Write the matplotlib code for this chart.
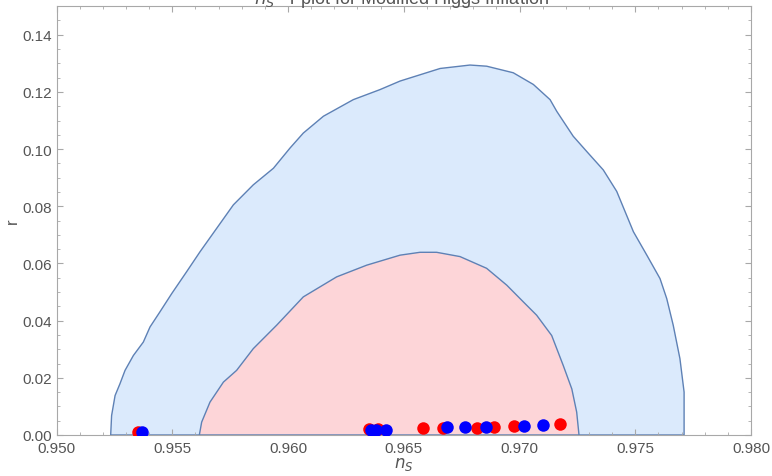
import matplotlib.pyplot as plt
from matplotlib.ticker import MultipleLocator, FormatStrFormatter

plt.rcParams['font.family'] = ['Liberation Sans', 'DejaVu Sans']

# outer (2-sigma) region boundary
outer_ns = [0.95234, 0.95238, 0.95253, 0.95274, 0.95296, 0.95332, 0.95375, 0.95404,
            0.95447, 0.95498, 0.95562, 0.95620, 0.95692, 0.95764, 0.95850, 0.95937,
            0.96009, 0.96066, 0.96153, 0.96282, 0.96397, 0.96484, 0.96657, 0.96786,
            0.96858, 0.96973, 0.97060, 0.97132, 0.97161, 0.97232, 0.97290, 0.97362,
            0.97420, 0.97492, 0.97550, 0.97607, 0.97636, 0.97664, 0.97693, 0.97711,
            0.97711]
outer_r = [0.0, 0.0068, 0.0138, 0.0179, 0.0226, 0.0278, 0.0325, 0.0378,
           0.0431, 0.0495, 0.0571, 0.0641, 0.0723, 0.0805, 0.0875, 0.0933,
           0.1004, 0.1056, 0.1115, 0.1173, 0.1208, 0.1238, 0.1282, 0.1294,
           0.1290, 0.1267, 0.1226, 0.1173, 0.1132, 0.1045, 0.0992, 0.0927,
           0.0852, 0.0711, 0.0629, 0.0547, 0.0477, 0.0384, 0.0267, 0.0150,
           0.0]

# inner (1-sigma) region boundary
inner_ns = [0.95617, 0.95627, 0.95663, 0.95721, 0.95778, 0.95850, 0.95951, 0.96066,
            0.96210, 0.96340, 0.96484, 0.96570, 0.96642, 0.96743, 0.96858, 0.96945,
            0.97016, 0.97074, 0.97139, 0.97189, 0.97226, 0.97247, 0.97257]
inner_r = [0.0, 0.0045, 0.0115, 0.0185, 0.0226, 0.0302, 0.0384, 0.0483,
           0.0553, 0.0594, 0.0629, 0.0639, 0.0639, 0.0624, 0.0583, 0.0524,
           0.0466, 0.0419, 0.0348, 0.0243, 0.0161, 0.0080, 0.0]

# model predictions
red_ns = [0.95354, 0.96351, 0.96389, 0.96582, 0.96671, 0.96815, 0.96891, 0.96978, 0.97175]
red_r = [0.0011, 0.0020, 0.0020, 0.0023, 0.0024, 0.0023, 0.0029, 0.0033, 0.0039]
blue_ns = [0.95368, 0.96357, 0.96380, 0.96423, 0.96686, 0.96765, 0.96855, 0.97019, 0.97103]
blue_r = [0.0012, 0.0019, 0.0019, 0.0019, 0.0027, 0.0027, 0.0029, 0.0033, 0.0036]

edge = '#5e81b5'
gray = '#555555'

fig = plt.figure(figsize=(7.72, 4.77), dpi=100)
ax = fig.add_axes([0.0732, 0.086, 0.8996, 0.899])

ax.fill(outer_ns, outer_r, facecolor='#dbeafc', edgecolor=edge, linewidth=1.0, zorder=1)
ax.fill(inner_ns, inner_r, facecolor='#fdd5d8', edgecolor=edge, linewidth=1.0, zorder=2)

ax.plot(red_ns, red_r, 'o', color='#ff0000', markersize=9, markeredgewidth=0, zorder=3)
ax.plot(blue_ns, blue_r, 'o', color='#0000ff', markersize=9, markeredgewidth=0, zorder=4)

ax.set_xlim(0.950, 0.980)
ax.set_ylim(0.0, 0.150)
ax.xaxis.set_major_locator(MultipleLocator(0.005))
ax.xaxis.set_minor_locator(MultipleLocator(0.001))
ax.yaxis.set_major_locator(MultipleLocator(0.02))
ax.yaxis.set_minor_locator(MultipleLocator(0.005))
ax.xaxis.set_major_formatter(FormatStrFormatter('%.3f'))
ax.yaxis.set_major_formatter(FormatStrFormatter('%.2f'))

for s in ax.spines.values():
    s.set_color('#a8a8a8')
ax.tick_params(which='both', direction='in', color='#a8a8a8', labelcolor=gray,
               labelsize=11, top=True, right=True)
ax.tick_params(which='major', length=4)
ax.tick_params(which='minor', length=2)
ax.tick_params(axis='x', pad=4)
ax.tick_params(axis='y', pad=3)

ax.set_xlabel('$n_S$', color=gray, fontsize=12, labelpad=0)
ax.set_ylabel('r', color=gray, fontsize=12, labelpad=2)

fig.text(0.52, 0.9916, '$n_S$ - r plot for Modified Higgs Inflation', color=gray,
         fontsize=13, ha='center', va='baseline')

fig.savefig('out.png', dpi=100)
